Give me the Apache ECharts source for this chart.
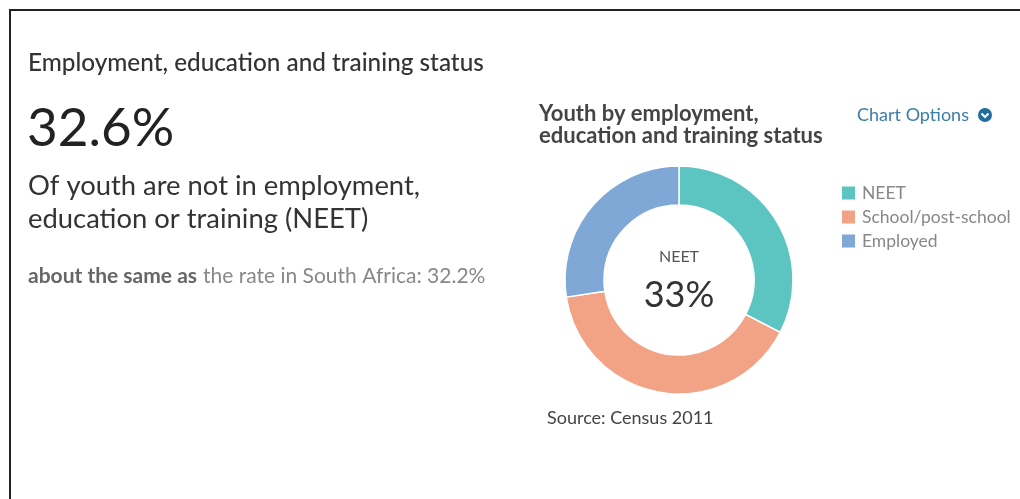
<!DOCTYPE html>
<html>
<head>
<meta charset="utf-8">
<script src="https://cdn.jsdelivr.net/npm/echarts@6/dist/echarts.min.js"></script>
<style>
  html, body { margin: 0; padding: 0; background: #fff; }
  #chart { width: 1020px; height: 499px; }
</style>
</head>
<body>
<div id="chart"></div>
<script>
// Youth status shares (%)
const categories = ['NEET', 'School/post-school', 'Employed'];
const shares = [32.6, 40.0, 27.4];
const colors = ['#5cc4c1', '#f2a285', '#7fa8d6'];
const headlineRate = '32.6%';
const nationalRate = '32.2%';
const centerLabel = 'NEET';

const FONT = 'Lato, "Open Sans", sans-serif';
const chart = echarts.init(document.getElementById('chart'), null, { renderer: 'canvas' });

const neetRounded = Math.round(shares[0]) + '%';

// helper for a left-aligned, vertically centred text element
function txt(x, y, text, size, color, weight, extra) {
  return {
    type: 'text', x: x, y: y, silent: true,
    style: Object.assign({
      text: text, fontFamily: FONT, fontSize: size, fill: color,
      fontWeight: weight || 'normal', align: 'left', verticalAlign: 'middle'
    }, extra || {})
  };
}

chart.setOption({
  animation: false,
  backgroundColor: '#ffffff',
  color: colors,
  legend: {
    orient: 'vertical',
    left: 835, top: 179,
    itemWidth: 15, itemHeight: 15,
    itemGap: 6,
    icon: 'rect',
    textStyle: { fontFamily: FONT, fontSize: 17.5, color: '#888', padding: [0, 0, 0, 1] },
    data: categories
  },
  graphic: [
    // page frame: top and left edges
    { type: 'rect', shape: { x: 9, y: 9, width: 1011, height: 2 }, style: { fill: '#222' } },
    { type: 'rect', shape: { x: 9, y: 9, width: 2, height: 490 }, style: { fill: '#222' } },

    // left-hand summary block
    txt(28, 63, 'Employment, education and training status', 24.3, '#333', 500),
    txt(27, 129, headlineRate, 53, '#222'),
    txt(28, 186, 'Of youth are not in employment,', 27.4, '#333'),
    txt(28, 219, 'education or training (NEET)', 27.4, '#333'),
    {
      type: 'text', x: 28, y: 276, silent: true,
      style: {
        text: '{b|about the same as}{s| }{n|the rate in South Africa: ' + nationalRate + '}',
        verticalAlign: 'middle', align: 'left',
        rich: {
          b: { fontFamily: FONT, fontSize: 21, fontWeight: 'bold', fill: '#666' },
          s: { fontFamily: FONT, fontSize: 21, width: 6 },
          n: { fontFamily: FONT, fontSize: 21, fill: '#888' }
        }
      }
    },

    // chart heading, options link and source
    txt(539, 114, 'Youth by employment,', 22, '#444', 'bold'),
    txt(539, 136, 'education and training status', 22, '#444', 'bold'),
    txt(857, 115, 'Chart Options', 18, '#3b7ea8'),
    { type: 'circle', shape: { cx: 985, cy: 115, r: 7 }, style: { fill: '#1f6e9e' } },
    { type: 'polyline', shape: { points: [[981.5, 113.5], [985, 117], [988.5, 113.5]] },
      style: { stroke: '#fff', lineWidth: 2, fill: null } },
    txt(547, 418, 'Source: Census 2011', 18, '#444'),

    // donut centre labels
    { type: 'text', x: 679, y: 257, style: { text: centerLabel, fontFamily: FONT, fontSize: 16, fill: '#555', align: 'center', verticalAlign: 'middle' } },
    { type: 'text', x: 679, y: 295, style: { text: neetRounded, fontFamily: FONT, fontSize: 36, fill: '#333', align: 'center', verticalAlign: 'middle' } }
  ],
  series: [{
    type: 'pie',
    center: [679, 280],
    radius: [75, 114],
    startAngle: 90,
    clockwise: true,
    label: { show: false },
    labelLine: { show: false },
    itemStyle: { borderColor: '#fff', borderWidth: 1.5 },
    emphasis: { disabled: true },
    data: categories.map((c, i) => ({ name: c, value: shares[i] }))
  }]
});
</script>
</body>
</html>
